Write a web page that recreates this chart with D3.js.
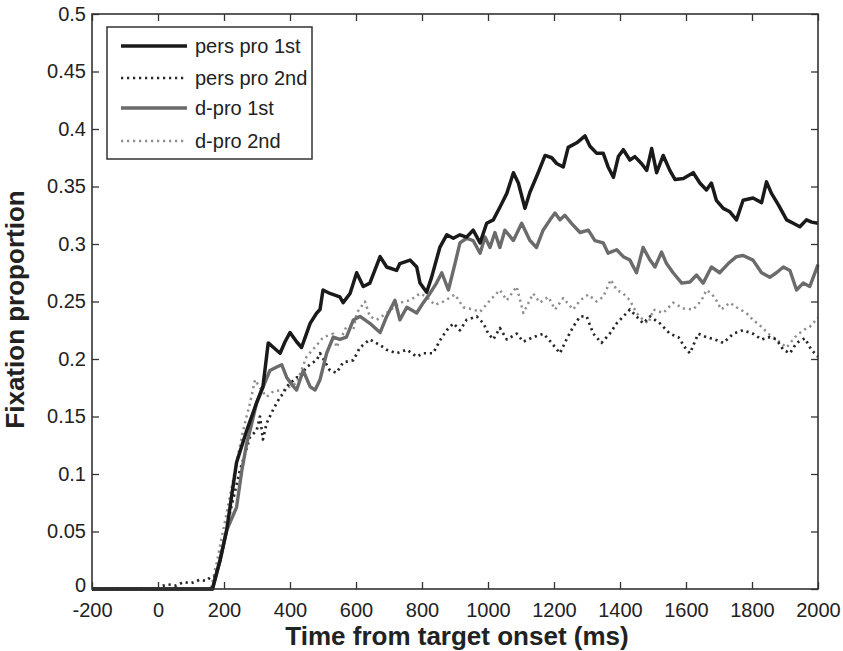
<!DOCTYPE html>
<html><head><meta charset="utf-8">
<script src="https://cdn.jsdelivr.net/npm/d3@7"></script>
<style>body{margin:0;background:#fff}svg{display:block}text{font-family:Arial,"Liberation Sans",sans-serif;fill:#222}</style>
</head><body>
<script>
const seriesNames = ["pers pro 1st", "pers pro 2nd", "d-pro 1st", "d-pro 2nd"];
const xTicks = [-200,0,200,400,600,800,1000,1200,1400,1600,1800,2000];
const xTickLabels = ["-200","0","200","400","600","800","1000","1200","1400","1600","1800","2000"];
const yTicks = [0,0.05,0.1,0.15,0.2,0.25,0.3,0.35,0.4,0.45,0.5];
const yTickLabels = ["0","0.05","0.1","0.15","0.2","0.25","0.3","0.35","0.4","0.45","0.5"];

const persPro1st = [[-200,0],[165,0],[188,0.025],[208,0.051],[238,0.11],[269,0.138],[299,0.162],[318,0.176],[334,0.214],[350,0.21],[370,0.205],[385,0.215],[400,0.223],[420,0.215],[435,0.21],[450,0.222],[461,0.231],[481,0.24],[491,0.243],[500,0.26],[521,0.257],[551,0.254],[561,0.249],[582,0.257],[602,0.275],[622,0.263],[642,0.266],[673,0.289],[693,0.28],[723,0.277],[733,0.283],[764,0.286],[784,0.28],[794,0.266],[814,0.258],[829,0.271],[854,0.297],[875,0.308],[895,0.305],[915,0.308],[935,0.306],[955,0.312],[976,0.301],[996,0.318],[1016,0.321],[1036,0.332],[1057,0.344],[1077,0.362],[1092,0.353],[1112,0.331],[1127,0.345],[1152,0.362],[1173,0.377],[1193,0.375],[1208,0.37],[1228,0.367],[1243,0.384],[1269,0.388],[1294,0.394],[1309,0.385],[1329,0.379],[1349,0.379],[1364,0.367],[1380,0.358],[1395,0.376],[1410,0.382],[1430,0.373],[1445,0.376],[1465,0.37],[1481,0.364],[1496,0.383],[1511,0.362],[1531,0.377],[1551,0.364],[1567,0.356],[1592,0.357],[1622,0.362],[1642,0.353],[1662,0.347],[1677,0.353],[1692,0.338],[1713,0.331],[1733,0.328],[1753,0.321],[1773,0.338],[1803,0.34],[1829,0.336],[1844,0.354],[1859,0.344],[1880,0.334],[1905,0.321],[1925,0.318],[1945,0.315],[1965,0.321],[1981,0.319],[2000,0.318]];

const persPro2nd = [[-200,0],[0,0],[5,0.002],[30,0.004],[55,0.003],[77,0.006],[100,0.005],[127,0.008],[145,0.007],[158,0.01],[170,0.01],[188,0.023],[218,0.066],[248,0.103],[279,0.132],[299,0.138],[309,0.15],[318,0.13],[329,0.144],[349,0.156],[370,0.167],[380,0.17],[390,0.176],[420,0.184],[430,0.184],[450,0.193],[481,0.199],[491,0.205],[521,0.19],[541,0.188],[561,0.197],[592,0.199],[612,0.21],[642,0.217],[673,0.212],[693,0.208],[723,0.205],[754,0.208],[784,0.202],[804,0.205],[834,0.205],[854,0.216],[875,0.225],[895,0.231],[915,0.225],[935,0.234],[966,0.237],[986,0.231],[1001,0.222],[1016,0.217],[1036,0.227],[1057,0.217],[1087,0.222],[1107,0.215],[1137,0.219],[1168,0.222],[1193,0.214],[1218,0.205],[1238,0.217],[1258,0.228],[1279,0.237],[1299,0.237],[1319,0.222],[1344,0.214],[1369,0.222],[1390,0.231],[1410,0.237],[1430,0.243],[1450,0.237],[1470,0.231],[1491,0.237],[1521,0.231],[1551,0.222],[1577,0.219],[1597,0.21],[1612,0.205],[1637,0.222],[1662,0.219],[1687,0.217],[1713,0.214],[1743,0.222],[1773,0.225],[1803,0.222],[1829,0.217],[1854,0.219],[1874,0.217],[1895,0.208],[1915,0.205],[1935,0.214],[1960,0.218],[1980,0.208],[2000,0.202]];

const dPro1st = [[-200,0],[165,0],[188,0.025],[208,0.051],[238,0.071],[254,0.103],[269,0.127],[279,0.138],[299,0.162],[319,0.176],[339,0.19],[360,0.193],[375,0.195],[390,0.184],[405,0.178],[420,0.173],[440,0.19],[461,0.176],[476,0.173],[491,0.182],[511,0.205],[531,0.219],[551,0.217],[571,0.219],[592,0.234],[612,0.237],[642,0.231],[673,0.223],[693,0.237],[718,0.251],[733,0.234],[754,0.245],[784,0.24],[804,0.249],[824,0.257],[844,0.266],[860,0.275],[880,0.26],[900,0.283],[915,0.301],[935,0.305],[955,0.303],[976,0.292],[991,0.306],[1006,0.297],[1021,0.31],[1036,0.297],[1051,0.312],[1077,0.303],[1102,0.318],[1127,0.303],[1147,0.297],[1167,0.312],[1188,0.321],[1203,0.327],[1218,0.321],[1233,0.325],[1253,0.318],[1279,0.31],[1304,0.312],[1324,0.303],[1349,0.301],[1364,0.292],[1390,0.295],[1410,0.289],[1430,0.286],[1450,0.275],[1470,0.297],[1491,0.286],[1506,0.28],[1526,0.293],[1541,0.283],[1561,0.275],[1587,0.266],[1612,0.267],[1632,0.273],[1652,0.266],[1677,0.28],[1702,0.275],[1728,0.283],[1753,0.289],[1773,0.29],[1803,0.286],[1829,0.275],[1854,0.271],[1874,0.275],[1895,0.28],[1915,0.277],[1935,0.26],[1955,0.266],[1975,0.263],[2000,0.282]];

const dPro2nd = [[-200,0],[160,0],[178,0.023],[208,0.066],[238,0.11],[258,0.138],[279,0.162],[294,0.182],[309,0.175],[329,0.167],[350,0.172],[380,0.173],[420,0.179],[450,0.202],[481,0.212],[501,0.219],[531,0.222],[541,0.21],[571,0.228],[592,0.225],[602,0.24],[627,0.25],[642,0.237],[663,0.234],[693,0.24],[733,0.249],[764,0.251],[794,0.257],[814,0.254],[839,0.247],[865,0.25],[900,0.256],[925,0.245],[955,0.243],[976,0.241],[1006,0.251],[1036,0.26],[1057,0.251],[1087,0.263],[1107,0.24],[1137,0.257],[1157,0.249],[1183,0.254],[1203,0.243],[1228,0.253],[1258,0.243],[1279,0.251],[1304,0.256],[1329,0.25],[1349,0.254],[1372,0.269],[1390,0.26],[1410,0.257],[1430,0.251],[1450,0.24],[1470,0.234],[1486,0.231],[1501,0.243],[1531,0.24],[1561,0.249],[1592,0.244],[1622,0.243],[1647,0.251],[1662,0.26],[1677,0.257],[1692,0.251],[1707,0.243],[1733,0.249],[1753,0.245],[1783,0.24],[1803,0.234],[1829,0.228],[1849,0.222],[1874,0.217],[1905,0.21],[1930,0.219],[1955,0.225],[1975,0.228],[2000,0.236]];

const W = 843, H = 651;
const M = {left: 92, right: 818, top: 14, bottom: 589};
const x = d3.scaleLinear().domain([-200, 2000]).range([M.left, M.right]);
const y = d3.scaleLinear().domain([0, 0.5]).range([M.bottom, M.top]);

const svg = d3.select("body").append("svg").attr("width", W).attr("height", H);

const styles = [
  {color: "#1a1a1a", width: 3.5, dash: null},
  {color: "#262626", width: 2.7, dash: "2.2,3.8"},
  {color: "#6b6b6b", width: 3.4, dash: null},
  {color: "#8f8f8f", width: 2.5, dash: "2.2,3.8"}
];
const allSeries = [persPro1st, persPro2nd, dPro1st, dPro2nd];

const line = d3.line().x(d => x(d[0])).y(d => y(d[1]));
const drawOrder = [3, 1, 2, 0];
drawOrder.forEach(i => {
  const s = styles[i];
  svg.append("path").datum(allSeries[i])
    .attr("fill", "none").attr("stroke", s.color).attr("stroke-width", s.width)
    .attr("stroke-linejoin", "round")
    .attr("stroke-dasharray", s.dash).attr("d", line);
});

// axes (ticks inward, MATLAB box)
const tickLen = 7;
const axColor = "#333";
const fs = 20;
svg.append("g").attr("transform", `translate(0,${M.bottom})`)
  .call(d3.axisBottom(x).tickValues(xTicks).tickSize(-tickLen).tickPadding(14).tickFormat((d, i) => xTickLabels[i]))
  .call(g => { g.select(".domain").remove(); g.selectAll("line").attr("stroke", axColor).attr("stroke-width", 1.3);
               g.selectAll("text").attr("font-size", fs).attr("fill", "#222").attr("font-family", "Arial, 'Liberation Sans', sans-serif"); });
svg.append("g").attr("transform", `translate(0,${M.top})`)
  .call(d3.axisTop(x).tickValues(xTicks).tickSize(-tickLen).tickFormat(""))
  .call(g => { g.select(".domain").remove(); g.selectAll("line").attr("stroke", axColor).attr("stroke-width", 1.3); });
svg.append("g").attr("transform", `translate(${M.left},0)`)
  .call(d3.axisLeft(y).tickValues(yTicks).tickSize(-tickLen).tickPadding(6).tickFormat((d, i) => yTickLabels[i]))
  .call(g => { g.select(".domain").remove(); g.selectAll("line").attr("stroke", axColor).attr("stroke-width", 1.3);
               g.selectAll("text").attr("font-size", fs).attr("fill", "#222").attr("font-family", "Arial, 'Liberation Sans', sans-serif");
               g.selectAll(".tick").filter(d => d === 0).select("text").attr("y", -4); });
svg.append("g").attr("transform", `translate(${M.right},0)`)
  .call(d3.axisRight(y).tickValues(yTicks).tickSize(-tickLen).tickFormat(""))
  .call(g => { g.select(".domain").remove(); g.selectAll("line").attr("stroke", axColor).attr("stroke-width", 1.3); });

svg.append("rect").attr("x", M.left).attr("y", M.top)
  .attr("width", M.right - M.left).attr("height", M.bottom - M.top)
  .attr("fill", "none").attr("stroke", axColor).attr("stroke-width", 1.6);

// axis titles
svg.append("text").attr("x", (M.left + M.right) / 2 + 2).attr("y", 645)
  .attr("text-anchor", "middle").attr("font-size", 26).attr("font-weight", "bold")
  .text("Time from target onset (ms)");
svg.append("text").attr("transform", `translate(24,${(M.top + M.bottom) / 2 + 8}) rotate(-90)`)
  .attr("text-anchor", "middle").attr("font-size", 26).attr("font-weight", "bold")
  .text("Fixation proportion");

// legend
const lg = svg.append("g");
lg.append("rect").attr("x", 107).attr("y", 27).attr("width", 205).attr("height", 132)
  .attr("fill", "#fff").attr("stroke", axColor).attr("stroke-width", 1.5);
const rowY = [46, 78, 108, 141];
seriesNames.forEach((name, i) => {
  const s = styles[i];
  lg.append("line").attr("x1", 121).attr("x2", 187).attr("y1", rowY[i]).attr("y2", rowY[i])
    .attr("stroke", s.color).attr("stroke-width", s.width).attr("stroke-dasharray", s.dash);
  lg.append("text").attr("x", 195).attr("y", rowY[i]).attr("dy", "0.35em")
    .attr("font-size", fs).text(name);
});
</script>
</body></html>
